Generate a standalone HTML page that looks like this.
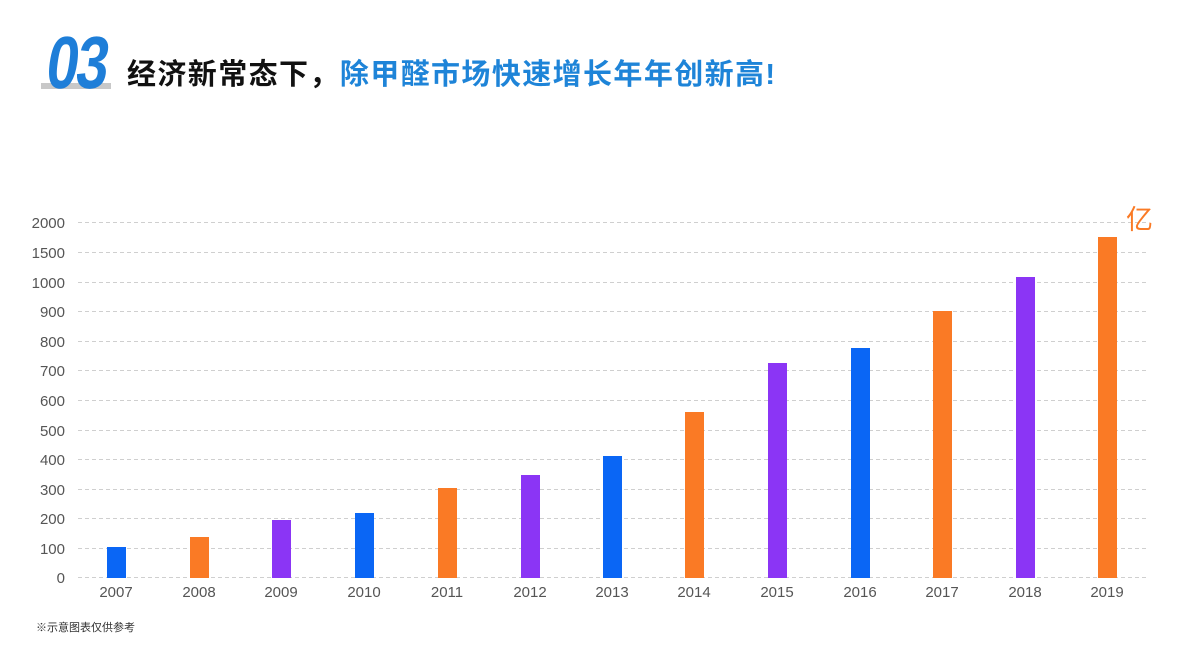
<!DOCTYPE html>
<html><head><meta charset="utf-8"><style>
body{margin:0;width:1200px;height:654px;background:#fff;overflow:hidden;font-family:"Liberation Sans","Noto Sans CJK SC",sans-serif;}
</style></head><body>
<svg width="1200" height="654" xmlns="http://www.w3.org/2000/svg" style="position:absolute;left:0;top:0">
<rect x="41" y="83" width="70" height="6" fill="#c8c8c8"/>
<g transform="translate(44,88) scale(0.78,1) skewX(-10)">
<text x="0" y="0" font-family="Liberation Sans, sans-serif" font-weight="bold" font-size="74" fill="#1e7ed8" letter-spacing="-3">03</text>
</g>
<text x="127" y="84" font-family="Liberation Sans, Noto Sans CJK SC, sans-serif" font-weight="bold" font-size="29" fill="#111" letter-spacing="1.4">经济新常态下，<tspan fill="#1e84d8">除甲醛市场快速增长年年创新高!</tspan></text>
<g stroke="#cfcfcf" stroke-dasharray="4,3" stroke-width="1">
<line x1="78" x2="1148" y1="222.5" y2="222.5"/><line x1="78" x2="1148" y1="252.5" y2="252.5"/>
<line x1="78" x2="1148" y1="282.5" y2="282.5"/><line x1="78" x2="1148" y1="311.5" y2="311.5"/>
<line x1="78" x2="1148" y1="341.5" y2="341.5"/><line x1="78" x2="1148" y1="370.5" y2="370.5"/>
<line x1="78" x2="1148" y1="400.5" y2="400.5"/><line x1="78" x2="1148" y1="430.5" y2="430.5"/>
<line x1="78" x2="1148" y1="459.5" y2="459.5"/><line x1="78" x2="1148" y1="489.5" y2="489.5"/>
<line x1="78" x2="1148" y1="518.5" y2="518.5"/><line x1="78" x2="1148" y1="548.5" y2="548.5"/>
<line x1="78" x2="1148" y1="577.5" y2="577.5"/>
</g>
<g font-size="15" fill="#555" text-anchor="end">
<text x="65" y="228">2000</text><text x="65" y="258">1500</text><text x="65" y="288">1000</text>
<text x="65" y="317">900</text><text x="65" y="347">800</text><text x="65" y="376">700</text>
<text x="65" y="406">600</text><text x="65" y="436">500</text><text x="65" y="465">400</text>
<text x="65" y="495">300</text><text x="65" y="524">200</text><text x="65" y="554">100</text>
<text x="65" y="583">0</text>
</g>
<g>
<rect x="107" y="547" width="19" height="31" fill="#0a66f5"/>
<rect x="190" y="537" width="19" height="41" fill="#fa7a25"/>
<rect x="272" y="520" width="19" height="58" fill="#8b35f5"/>
<rect x="355" y="513" width="19" height="65" fill="#0a66f5"/>
<rect x="438" y="488" width="19" height="90" fill="#fa7a25"/>
<rect x="521" y="475" width="19" height="103" fill="#8b35f5"/>
<rect x="603" y="456" width="19" height="122" fill="#0a66f5"/>
<rect x="685" y="412" width="19" height="166" fill="#fa7a25"/>
<rect x="768" y="363" width="19" height="215" fill="#8b35f5"/>
<rect x="851" y="348" width="19" height="230" fill="#0a66f5"/>
<rect x="933" y="311" width="19" height="267" fill="#fa7a25"/>
<rect x="1016" y="277" width="19" height="301" fill="#8b35f5"/>
<rect x="1098" y="237" width="19" height="341" fill="#fa7a25"/>
</g>
<g font-size="15" fill="#555" text-anchor="middle">
<text x="116" y="597">2007</text><text x="199" y="597">2008</text><text x="281" y="597">2009</text>
<text x="364" y="597">2010</text><text x="447" y="597">2011</text><text x="530" y="597">2012</text>
<text x="612" y="597">2013</text><text x="694" y="597">2014</text><text x="777" y="597">2015</text>
<text x="860" y="597">2016</text><text x="942" y="597">2017</text><text x="1025" y="597">2018</text>
<text x="1107" y="597">2019</text>
</g>
<text x="1126" y="229" font-size="27" fill="#fa7a25" font-family="Noto Sans CJK SC, sans-serif">亿</text>
<text x="36" y="631" font-size="11" fill="#333" font-family="Liberation Sans, Noto Sans CJK SC, sans-serif">※示意图表仅供参考</text>
</svg>
</body></html>
